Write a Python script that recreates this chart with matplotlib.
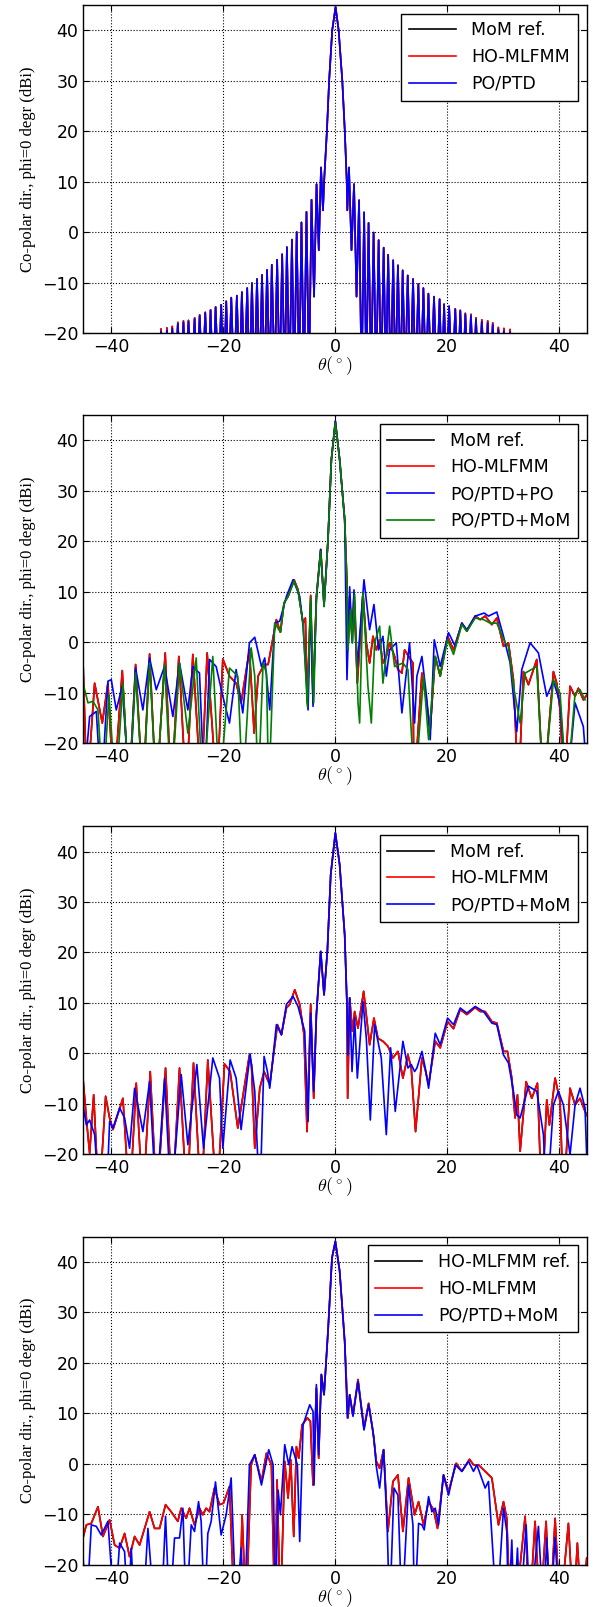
import matplotlib
matplotlib.use('Agg')
import matplotlib.pyplot as plt

# ---------------- panel 1 : MoM ref. / HO-MLFMM / PO/PTD ----------------
# side-lobe peaks and nulls (-30 = below the axis)
p1_left_peak_th = [-31.1, -30.05, -29.1, -28.1, -27.1, -26.2, -25.1, -24.2, -23.2, -22.25, -21.35,
                   -20.35, -19.45, -18.55, -17.55, -16.65, -15.7, -14.85, -13.95, -13.05, -12.15,
                   -11.3, -10.35, -9.45, -8.6, -7.7, -6.85, -6.0, -5.1, -4.2, -3.3, -2.5]
p1_left_peak_blue = [-19.7, -19.5, -19.1, -18.2, -17.9, -17.7, -17.2, -16.6, -16.0, -15.5, -14.9,
                     -14.4, -13.75, -13.0, -12.6, -11.9, -11.1, -10.1, -9.3, -8.5, -7.5,
                     -6.5, -5.5, -4.4, -3.0, -1.5, 0.0, 1.9, 4.0, 6.4, 9.5, 12.8]
p1_left_peak_red = [-19.2, -19.0, -18.7, -17.9, -17.6, -17.5, -17.0, -16.4, -15.9, -15.4, -14.8,
                    -14.4, -13.7, -13.0, -12.6, -11.9, -11.1, -10.1, -9.3, -8.5, -7.5,
                    -6.5, -5.5, -4.4, -3.0, -1.5, 0.0, 1.9, 4.0, 6.4, 9.5, 12.8]
p1_left_null_th = [-45.0, -31.6, -30.6, -29.6, -28.6, -27.6, -26.65, -25.65, -24.65, -23.7, -22.7,
                   -21.8, -20.85, -19.9, -19.0, -18.05, -17.1, -16.2, -15.3, -14.4, -13.5,
                   -12.6, -11.7, -10.8, -9.9, -9.0, -8.15, -7.3, -6.4, -5.55, -4.65, -3.75, -2.9]
p1_left_null_db = [-30, -30, -30, -30, -30, -30, -30, -30, -30, -30, -30,
                   -30, -30, -30, -30, -30, -30, -30, -30, -30, -30,
                   -30, -30, -30, -30, -30, -30, -30, -30, -30, -30, -12.8, -3.6]

p1_main_th = [-2.15, -1.95, -1.45, -1.05, -0.5, 0.1, 0.65, 1.3, 1.75, 2.1, 2.2]
p1_main_db = [4.3, 10, 20, 30, 40, 44.6, 40, 30, 20, 10, 4.3]

p1_right_peak_th = [2.5, 3.4, 4.3, 5.2, 6.0, 6.9, 7.8, 8.7, 9.5, 10.4, 11.25, 12.1, 13.0, 13.95,
                    14.9, 15.8, 16.7, 17.7, 18.7, 19.5, 20.4, 21.5, 22.4, 23.3, 24.3, 25.2,
                    26.25, 27.3, 28.2, 29.2, 30.2, 31.3]
p1_right_peak_blue = [12.8, 9.5, 6.3, 3.9, 1.8, -0.1, -1.6, -3.1, -4.5, -5.6, -6.6, -7.6, -8.6, -9.3,
                      -10.3, -11.1, -12.2, -12.8, -13.3, -14.3, -14.7, -15.3, -15.6, -16.3, -16.6,
                      -17.3, -17.8, -18.0, -18.4, -19.3, -19.6, -19.8]
p1_right_peak_red = [12.8, 9.5, 6.3, 3.9, 1.8, -0.1, -1.6, -3.1, -4.5, -5.6, -6.6, -7.6, -8.6, -9.3,
                     -10.3, -11.1, -12.2, -12.8, -13.3, -14.3, -14.7, -15.2, -15.5, -16.1, -16.3,
                     -17.0, -17.4, -17.6, -18.0, -18.9, -19.1, -19.3]
p1_right_null_th = [2.95, 3.85, 4.75, 5.6, 6.45, 7.35, 8.25, 9.1, 9.95, 10.8, 11.7, 12.55, 13.5,
                    14.4, 15.35, 16.25, 17.2, 18.2, 19.1, 19.95, 20.95, 21.95, 22.85, 23.8, 24.75,
                    25.7, 26.8, 27.75, 28.7, 29.7, 30.75, 31.8, 45.0]
p1_right_null_db = [-3.6, -12.8, -30, -30, -30, -30, -30, -30, -30, -30, -30, -30, -30,
                    -30, -30, -30, -30, -30, -30, -30, -30, -30, -30, -30, -30,
                    -30, -30, -30, -30, -30, -30, -30, -30]

# ---------------- panel 2 ----------------
p2_red_th = [-45.06, -44.35, -42.98, -41.61, -40.6, -39.58, -38.04, -36.85, -35.65, -34.35, -33.15,
             -31.96, -30.36, -29.29, -27.92, -26.61, -25.42, -23.93, -22.86, -21.13, -20.06, -18.87,
             -17.68, -16.79, -15.3, -14.46, -13.75, -12.68, -11.96, -10.48, -9.76, -9.11, -8.39,
             -7.32, -6.61, -5.71, -5.3, -4.94, -4.35, -3.93, -3.33, -2.56, -1.96, -1.25, -0.65,
             0.06, 0.83, 1.73, 2.14, 2.32, 2.62, 3.04, 3.39, 3.99, 5.0, 5.6, 6.19, 6.79, 7.38,
             7.98, 8.57, 9.17, 9.76, 10.65, 11.25, 11.96, 12.44, 13.33, 13.93, 14.1, 15.54, 16.31,
             17.02, 17.92, 18.81, 20.12, 21.19, 22.68, 23.57, 25.06, 25.95, 26.85, 28.04, 28.93,
             30.12, 31.01, 31.9, 32.8, 33.69, 34.58, 35.48, 36.07, 37.26, 39.05, 39.64, 40.24,
             40.95, 42.02, 42.92, 43.51, 44.4, 45.3]
p2_red_db = [-3.4, -30, -8.1, -16.0, -8.1, -30, -5.6, -30, -4.4, -30, -2.3,
             -30, -2.1, -30, -2.8, -30, -2.4, -30, -2.1, -30, -3.3, -6.7,
             -8.1, -12.0, -1.5, -18.0, -6.7, -4.4, -4.4, 4.5, 2.0, 7.8, 9.1,
             12.4, 10.4, 3.8, 4.8, -12.0, 9.3, -12.0, 9.1, 18.4, 7.5, 20.4, 36.2,
             43.8, 36.2, 24.3, 11.8, -1.5, 9.1, 0.5, 9.5, -8.1, 9.8, -0.1, -4.1, 1.2, -1.5,
             0.5, -4.1, -2.8, -0.1, -2.8, -5.4, -6.1, -1.5, -3.1, -4.1, -30, -6.1, -11.4,
             -17.3, -2.8, -6.7, 1.2, -1.5, 3.8, 2.2, 5.2, 4.5, 5.2, 3.5, 4.8,
             -0.8, -0.1, -7.4, -30, -5.8, -8.4, -5.4, -3.4, -30, -5.8, -8.1, -13.4,
             -30, -8.7, -10.7, -9.1, -11.4, -10.0]

p2_blue_th = [-45.06, -43.87, -42.68, -41.79, -40.6, -40.0, -39.11, -38.04, -36.73, -35.65, -34.35,
              -33.15, -31.96, -30.48, -28.99, -27.8, -26.31, -25.42, -24.23, -23.33, -22.44, -21.25,
              -20.06, -18.87, -17.68, -16.49, -15.3, -14.35, -13.15, -12.56, -11.67, -10.77, -9.88,
              -8.69, -7.5, -6.31, -5.71, -4.82, -4.35, -3.93, -3.33, -2.56, -1.96, -1.25, -0.65,
              0.06, 0.83, 1.73, 2.14, 2.62, 3.1, 3.39, 3.99, 5.18, 6.19, 6.96, 7.8, 8.57, 9.17,
              9.76, 10.95, 11.96, 13.33, 14.23, 14.64, 15.54, 16.43, 17.02, 17.74, 18.81, 20.3,
              21.49, 22.68, 23.57, 25.06, 26.67, 27.44, 28.93, 30.12, 31.31, 32.5, 33.39, 34.88,
              36.37, 37.86, 39.05, 40.24, 41.43, 42.92, 44.4, 45.3]
p2_blue_db = [-30, -14.7, -13.7, -30, -7.7, -7.4, -13.4, -8.7, -30, -5.1, -13.4,
              -3.1, -9.4, -4.8, -14.7, -4.1, -13.4, -4.8, -6.1, -30, -3.4, -4.8,
              -10.7, -16.0, -5.4, -14.0, -0.1, 1.0, -4.8, -3.1, -13.4, 3.8, 4.2,
              9.1, 12.4, 9.1, 3.2, -13.4, 7.8, -12.7, 8.5, 18.4, 7.1, 20.4, 36.2,
              43.8, 36.2, 24.3, -7.4, 11.0, -0.1, 10.4, -4.8, 12.4, 2.5, 7.5, -1.5, 1.2, -6.7,
              -1.5, -0.1, -14.0, -0.1, -16.0, -6.7, -2.8, -11.4, -19.3, 0.5, -4.8, 1.9,
              -0.8, 3.8, 2.5, 5.2, 5.8, 5.2, 6.0, 1.2, -4.1, -17.7, -5.4, -0.1,
              -2.1, -10.7, -7.7, -12.0, -30, -12.0, -16.7, -30]

p2_green_th = [-45.06, -44.17, -43.27, -42.38, -41.49, -40.42, -39.23, -37.92, -36.85, -35.65, -34.35,
               -33.15, -31.96, -30.48, -29.29, -27.8, -26.31, -24.82, -23.63, -21.85, -20.65, -18.87,
               -17.38, -16.49, -15.0, -14.94, -14.35, -13.75, -12.86, -12.26, -11.85, -10.77, -9.76,
               -9.11, -8.39, -7.32, -6.61, -5.71, -4.94, -4.35, -3.81, -3.33, -2.56, -1.96, -1.25,
               -0.65, 0.06, 0.83, 1.73, 2.14, 2.32, 2.8, 3.1, 3.51, 4.11, 4.4, 5.0, 5.89, 6.49,
               7.08, 7.98, 8.57, 9.76, 10.65, 12.14, 13.04, 14.23, 15.83, 16.73, 17.92, 18.81,
               20.12, 21.19, 22.68, 23.57, 25.06, 26.55, 27.74, 28.93, 30.42, 31.01, 31.9, 33.1,
               33.99, 36.07, 37.26, 39.05, 40.24, 41.43, 42.92, 43.81, 44.7]
p2_green_db = [-8.1, -12.0, -11.7, -13.4, -30, -10.4, -30, -8.1, -30, -6.1, -30,
               -4.1, -30, -4.4, -30, -4.1, -18.0, -3.1, -30, -2.8, -30, -5.1,
               -6.7, -30, -1.1, -1.5, -6.7, -30, -4.1, -6.1, -30, 3.8, 2.0,
               7.8, 9.1, 12.1, 10.1, 3.8, -12.7, 8.8, -12.0, 8.8, 18.1, 7.1, 20.4,
               36.2, 43.5, 36.2, 24.3, 10.4, -1.5, 6.5, -0.1, 9.5, -12.0, -16.0, 9.8, -8.7, -16.0,
               -0.1, 3.2, -8.1, 3.2, -4.8, -4.1, -5.4, -30, -6.7, -19.3, -2.8, -6.7,
               0.5, -2.4, 3.5, 2.2, 4.8, 4.5, 3.8, 3.8, -0.1, -0.8, -8.7, -16.0,
               -6.1, -4.8, -30, -7.4, -10.1, -30, -10.1, -9.4, -11.4]

# ---------------- panel 3 ----------------
p3_red_th = [-45.06, -44.35, -43.87, -43.15, -42.2, -41.01, -40.3, -39.7, -37.92, -36.73, -35.54,
             -34.35, -33.04, -31.85, -30.3, -29.11, -27.8, -26.49, -25.3, -23.93, -22.74, -21.13,
             -19.76, -18.75, -17.38, -15.3, -14.94, -14.35, -13.45, -12.68, -11.67, -10.3, -9.58,
             -8.69, -8.1, -7.2, -6.31, -5.54, -5.0, -4.35, -3.81, -3.33, -2.56, -1.96, -1.37,
             -0.77, 0.06, 0.83, 1.73, 2.14, 2.26, 2.62, 3.1, 3.51, 4.11, 5.12, 6.19, 6.96, 7.68,
             8.57, 9.46, 10.36, 11.25, 12.14, 13.04, 13.63, 14.4, 15.54, 16.13, 16.73, 17.92,
             18.81, 20.12, 21.19, 22.38, 23.57, 25.06, 25.95, 26.85, 28.04, 28.93, 30.12, 30.83,
             31.61, 32.2, 32.62, 33.1, 34.17, 35.18, 36.19, 36.96, 37.86, 38.33, 39.35, 40.24,
             40.83, 42.02, 42.92, 43.81, 44.7, 45.3]
p3_red_db = [-4.9, -14.2, -19.8, -8.2, -30, -8.5, -12.8, -15.1, -8.9, -30, -5.9,
             -30, -3.6, -30, -2.9, -30, -2.9, -30, -1.9, -30, -1.3, -30,
             -2.1, -3.6, -14.8, -0.3, -2.2, -18.8, -6.9, -3.6, -6.2, 5.7, 3.7,
             9.0, 9.7, 12.6, 9.7, 3.7, -15.5, 9.7, -8.9, 7.7, 20.2, 11.6, 20.2,
             35.4, 43.7, 37.4, 23.5, 9.7, -8.9, 11.0, 4.4, 8.3, 5.0, 12.3, 1.7, 7.0, 3.0,
             2.4, 1.4, -0.9, 0.4, -4.9, -0.3, -2.9, -15.5, -0.9, -3.2, -6.2, 2.4,
             1.1, 6.3, 4.9, 8.7, 7.7, 9.1, 8.3, 8.3, 6.3, 6.0, 0.4, 0.4,
             -4.9, -12.8, -8.2, -19.4, -5.6, -8.9, -5.9, -30, -9.2, -14.2, -4.9, -9.5,
             -30, -6.9, -10.2, -8.9, -11.5, -12.8]

p3_blue_th = [-45.06, -44.46, -43.87, -42.98, -42.08, -40.89, -40.3, -39.7, -38.51, -37.62, -36.73,
              -35.83, -34.35, -33.15, -31.96, -30.48, -29.29, -27.5, -26.31, -24.7, -23.51, -21.85,
              -20.65, -20.06, -18.75, -17.68, -16.79, -15.18, -14.35, -13.45, -12.68, -12.08,
              -11.67, -10.48, -9.58, -8.69, -7.5, -6.61, -5.42, -4.82, -4.35, -3.81, -3.33, -2.56,
              -1.96, -1.37, -0.77, 0.06, 0.83, 1.73, 2.14, 2.32, 2.62, 3.04, 3.51, 3.99, 5.0, 5.6,
              6.31, 7.08, 8.27, 9.17, 9.94, 10.77, 12.14, 13.04, 13.63, 14.23, 14.64, 15.54, 16.13,
              16.73, 17.92, 18.81, 20.12, 21.19, 22.38, 23.57, 25.06, 26.55, 28.04, 28.93, 30.12,
              31.01, 31.9, 32.5, 33.1, 34.58, 36.07, 37.26, 37.86, 39.05, 39.94, 40.83, 42.02,
              42.92, 43.81, 44.7, 45.3]
p3_blue_db = [-10.2, -14.2, -13.2, -16.1, -30, -30, -13.5, -14.8, -10.8, -12.8, -18.8,
              -6.9, -15.5, -5.6, -30, -4.9, -30, -4.2, -18.1, -2.2, -18.8, -0.9,
              -4.9, -18.8, -1.3, -4.9, -15.1, -0.1, -7.5, -30, -0.6, -3.6,
              -6.9, 5.7, 3.7, 9.7, 11.3, 9.3, 4.4, -13.5, 8.0, -7.5, 7.7, 20.2,
              11.6, 20.2, 35.4, 43.7, 37.4, 23.5, 9.7, -0.3, 11.0, -3.6, 7.0, -4.9, 10.3, 3.0,
              -13.2, 5.7, -0.9, -16.1, 1.1, -11.5, 2.4, -2.9, -2.2, -3.6, -2.9, 0.4, -2.9,
              -6.9, 4.0, 1.7, 7.0, 5.7, 9.0, 8.0, 9.3, 8.3, 6.0, 5.7, -0.3,
              -1.9, -7.5, -12.2, -12.8, -6.5, -7.5, -16.1, -30, -10.2, -7.5, -10.2, -20.1,
              -10.2, -6.9, -10.8, -30]

# ---------------- panel 4 ----------------
p4_red_th = [-45.06, -44.46, -43.57, -42.38, -41.49, -40.3, -39.4, -38.51, -37.62, -36.73, -35.83,
             -34.94, -33.15, -32.26, -31.37, -30.3, -29.29, -28.1, -27.5, -26.61, -26.01, -25.12,
             -24.23, -23.63, -23.04, -22.44, -21.55, -20.65, -19.94, -18.87, -17.98, -17.08,
             -16.61, -15.89, -15.0, -14.35, -13.15, -12.26, -11.37, -10.77, -10.36, -9.76, -8.99,
             -8.39, -7.92, -7.38, -6.9, -6.49, -5.89, -4.94, -4.4, -3.93, -3.33, -2.92, -2.44,
             -1.96, -1.25, -0.54, 0.06, 0.83, 1.73, 2.32, 2.62, 3.21, 4.11, 5.18, 6.01, 6.79,
             7.38, 7.98, 8.69, 9.46, 10.36, 11.25, 12.14, 13.15, 14.23, 14.94, 15.83, 16.73,
             17.62, 18.33, 19.4, 20.3, 21.67, 22.68, 24.05, 24.76, 25.65, 26.85, 28.04, 29.23,
             30.12, 30.71, 31.31, 32.2, 33.99, 34.76, 35.77, 36.67, 37.74, 38.45, 39.35, 40.24,
             41.73, 42.62, 43.33, 44.11, 45.0]
p4_red_db = [-14.7, -12.1, -11.8, -8.5, -14.4, -11.1, -16.1, -16.7, -13.8, -18.4, -14.4,
             -16.1, -9.5, -12.8, -12.8, -8.1, -9.5, -11.4, -8.8, -10.8, -8.8, -12.1,
             -8.8, -10.1, -8.8, -9.5, -4.8, -8.1, -7.8, -4.5, -30, -30,
             -10.1, -30, -0.2, 1.8, -3.5, 2.1, -0.2, -30, -3.2, -30, 0.5,
             -6.8, 0.8, -14.4, 3.4, 1.1, 7.7, 9.1, 8.4, -4.2, 15.0, 1.1, 17.7,
             13.7, 26.3, 40.8, 44.1, 38.2, 24.3, 9.1, 13.7, 9.7, 16.7, 7.1, 12.0, 6.4,
             0.5, -0.9, 2.8, -13.4, -3.5, -2.2, -13.4, -2.8, -10.1, -7.5, -12.1, -7.5,
             -9.1, -12.8, -2.2, -5.5, 0.1, -1.5, 0.9, -0.2, -0.2, -1.5, -2.8, -12.1,
             -7.5, -10.8, -30, -30, -10.4, -30, -11.4, -30, -11.4, -30, -10.8, -30,
             -11.8, -30, -15.7, -30, -18.7]

p4_blue_th = [-45.06, -44.46, -43.57, -42.68, -41.79, -40.6, -39.4, -38.51, -37.62, -37.02, -36.43,
              -35.83, -34.35, -33.45, -32.26, -31.07, -30.3, -29.58, -28.69, -27.8, -27.2, -26.61,
              -25.71, -25.12, -24.4, -23.93, -23.33, -22.74, -22.14, -21.37, -20.36, -19.46,
              -18.57, -17.68, -16.79, -16.19, -15.3, -14.35, -13.15, -11.85, -11.07, -10.65,
              -10.18, -9.76, -8.99, -8.27, -7.68, -6.73, -6.31, -5.71, -4.52, -3.93, -3.75,
              -3.33, -2.92, -2.44, -1.96, -1.25, -0.54, 0.06, 0.83, 1.73, 2.2, 2.62, 3.21, 4.11,
              5.18, 6.01, 6.96, 7.38, 7.98, 8.69, 9.35, 9.76, 10.54, 11.25, 11.96, 13.15, 13.93,
              14.23, 14.94, 15.54, 15.95, 16.73, 17.32, 17.92, 18.51, 19.4, 20.3, 21.49, 22.68,
              23.87, 24.76, 25.36, 26.85, 27.44, 28.93, 30.12, 30.71, 31.01, 31.61, 32.02, 32.62,
              33.1, 34.17, 34.88, 36.37, 37.26, 37.86, 38.45, 39.35, 40.12, 45.3]
p4_blue_db = [-18.1, -30, -12.1, -12.4, -14.1, -11.4, -30, -15.7, -17.4, -30, -16.7,
              -30, -30, -12.8, -30, -30, -10.4, -30, -14.7, -14.7, -8.8, -30,
              -12.1, -13.4, -7.5, -11.4, -30, -13.8, -11.4, -3.6, -14.1, -10.1,
              -2.8, -30, -16.7, -30, -0.2, 1.8, -4.2, 2.8, -0.2, -30,
              -5.2, -10.1, 3.8, -0.2, 3.4, -0.2, -15.4, 7.7, 11.7, 10.4, -4.2,
              15.7, 1.8, 17.7, 13.7, 26.3, 40.8, 44.1, 38.2, 24.3, 9.1, 13.7, 9.4, 16.3,
              6.7, 11.7, 5.1, -0.5, -4.8, 2.8, -13.4, -30, -4.8, -6.2, -30, -4.2, -12.1,
              -30, -11.8, -12.1, -13.1, -6.5, -9.5, -8.8, -12.1, -2.2, -6.2, -0.2, -1.5,
              0.5, -1.5, -0.2, -4.8, -3.5, -30, -8.8, -13.4, -30, -15.1, -30, -16.7,
              -30, -12.1, -30, -12.4, -30, -14.7, -30, -14.7, -30, -30]

legend1 = ['MoM ref.', 'HO-MLFMM', 'PO/PTD']
legend2 = ['MoM ref.', 'HO-MLFMM', 'PO/PTD+PO', 'PO/PTD+MoM']
legend3 = ['MoM ref.', 'HO-MLFMM', 'PO/PTD+MoM']
legend4 = ['HO-MLFMM ref.', 'HO-MLFMM', 'PO/PTD+MoM']

plt.rcParams['mathtext.fontset'] = 'cm'
plt.rcParams['font.size'] = 12.5
plt.rcParams['xtick.direction'] = 'in'
plt.rcParams['ytick.direction'] = 'in'
plt.rcParams['xtick.top'] = True
plt.rcParams['ytick.right'] = True
plt.rcParams['xtick.major.size'] = 4
plt.rcParams['ytick.major.size'] = 4
plt.rcParams['axes.linewidth'] = 1.0


def merge(*parts):
    # put read points of several lists in angle order
    pts = []
    for th, db in parts:
        pts += list(zip(th, db))
    pts.sort()
    return [p[0] for p in pts], [p[1] for p in pts]


p1_th_red, p1_db_red = merge((p1_left_peak_th, p1_left_peak_red), (p1_left_null_th, p1_left_null_db),
                             (p1_main_th, p1_main_db), (p1_right_peak_th, p1_right_peak_red),
                             (p1_right_null_th, p1_right_null_db))
p1_th_blue, p1_db_blue = merge((p1_left_peak_th, p1_left_peak_blue), (p1_left_null_th, p1_left_null_db),
                               (p1_main_th, p1_main_db), (p1_right_peak_th, p1_right_peak_blue),
                               (p1_right_null_th, p1_right_null_db))

panels = [
    ([(p1_th_red, p1_db_red, 'k'), (p1_th_red, p1_db_red, 'r'), (p1_th_blue, p1_db_blue, 'b')], legend1),
    ([(p2_red_th, p2_red_db, 'k'), (p2_red_th, p2_red_db, 'r'), (p2_blue_th, p2_blue_db, 'b'),
      (p2_green_th, p2_green_db, 'g')], legend2),
    ([(p3_red_th, p3_red_db, 'k'), (p3_red_th, p3_red_db, 'r'), (p3_blue_th, p3_blue_db, 'b')], legend3),
    ([(p4_red_th, p4_red_db, 'k'), (p4_red_th, p4_red_db, 'r'), (p4_blue_th, p4_blue_db, 'b')], legend4),
]
bottoms = [0.7928, 0.5375, 0.2817, 0.0263]

fig = plt.figure(figsize=(5.96, 16.07), dpi=100)
for (series, labels), b in zip(panels, bottoms):
    ax = fig.add_axes([0.1398, b, 0.8446, 0.2041])
    for (th, db, c), lab in zip(series, labels):
        ax.plot(th, db, color=c, lw=1.2, label=lab)
    ax.set_xlim(-45, 45)
    ax.set_ylim(-20, 45)
    ax.set_xticks([-40, -20, 0, 20, 40])
    ax.set_yticks([-20, -10, 0, 10, 20, 30, 40])
    ax.grid(True, linestyle=':', color='k', lw=0.8)
    ax.set_xlabel(r'$\theta(^\circ)$', fontsize=13, labelpad=-1)
    ax.set_ylabel('Co-polar dir., phi=0 degr (dBi)', family='Liberation Serif', fontsize=12)
    leg = ax.legend(loc='upper right', fancybox=False, framealpha=1, edgecolor='k', fontsize=12.5,
                    handlelength=2.7, handletextpad=0.9, borderpad=0.45)
    leg.get_frame().set_linewidth(1.0)

fig.savefig('out.png', dpi=100)
